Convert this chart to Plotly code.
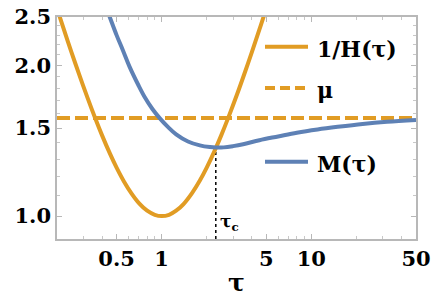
import plotly.graph_objects as go
import math

# ---- data ----
tau_h = [0.2, 0.22, 0.25, 0.28, 0.32, 0.36, 0.4, 0.45, 0.5, 0.56, 0.63, 0.71, 0.8, 0.9, 1.0,
         1.12, 1.25, 1.4, 1.6, 1.8, 2.0, 2.25, 2.5, 2.8, 3.2, 3.6, 4.0, 4.5, 5.0, 5.4]
inv_h = [2.600, 2.383, 2.125, 1.926, 1.723, 1.569, 1.450, 1.336, 1.250, 1.173, 1.109, 1.059,
         1.025, 1.006, 1.000, 1.006, 1.025, 1.057, 1.113, 1.178, 1.250, 1.347, 1.450, 1.579,
         1.756, 1.939, 2.125, 2.361, 2.600, 2.793]

tau_m = [0.42, 0.45, 0.5, 0.55, 0.61, 0.7, 0.77, 0.87, 0.97, 1.1, 1.25, 1.5, 1.8, 2.1,
         2.3, 2.6, 3.0, 3.5, 4.5, 6, 8, 11, 15, 22, 32, 50]
m_vals = [2.64, 2.50, 2.30, 2.148, 1.99, 1.826, 1.73, 1.635, 1.57, 1.508, 1.457, 1.41, 1.385,
          1.374, 1.371, 1.372, 1.38, 1.392, 1.418, 1.443, 1.468, 1.49, 1.508, 1.528, 1.543, 1.556]

mu = 1.57
mu_x = [0.2, 50]
tau_c = 2.3
m_c = 1.37

x_ticks = [0.5, 1, 5, 10, 50]
x_ticklabels = ["0.5", "1", "5", "10", "50"]
y_ticks = [1.0, 1.5, 2.0, 2.5]
y_ticklabels = ["1.0", "1.5", "2.0", "2.5"]
x_minor = [0.2, 0.3, 0.4, 0.6, 0.7, 0.8, 0.9, 2, 3, 4, 6, 7, 8, 9, 20, 30, 40]
y_minor = [0.9, 1.1, 1.2, 1.3, 1.4, 1.6, 1.7, 1.8, 1.9, 2.1, 2.2, 2.3, 2.4]

ORANGE = "#E19C24"
BLUE = "#5E81B5"
FONT = "DejaVu Serif"

fig = go.Figure()
fig.add_trace(go.Scatter(x=mu_x, y=[mu, mu], mode="lines",
                         line=dict(color=ORANGE, width=4, dash="13px,5px"), showlegend=False))
fig.add_trace(go.Scatter(x=[tau_c, tau_c], y=[0.9, m_c], mode="lines",
                         line=dict(color="black", width=1.5, dash="dot"), showlegend=False))
fig.add_trace(go.Scatter(x=tau_h, y=inv_h, mode="lines",
                         line=dict(color=ORANGE, width=4, shape="spline"), showlegend=False))
fig.add_trace(go.Scatter(x=tau_m, y=m_vals, mode="lines",
                         line=dict(color=BLUE, width=4, shape="spline"), showlegend=False))

W, H = 436, 308
L, R, T, B = 57, 20, 17, 69
pw, ph = W - L - R, H - T - B

def px(x):
    return (x - L) / pw

def py(y):
    return (H - B - y) / ph

# manual legend
legend_items = [
    (46.7, ORANGE, "solid", "1/H(τ)"),
    (88, ORANGE, "10px,5px", "μ"),
    (161.7, BLUE, "solid", "M(τ)"),
]
for yy, col, dash, label in legend_items:
    fig.add_shape(type="line", xref="paper", yref="paper",
                  x0=px(265), x1=px(308), y0=py(yy), y1=py(yy),
                  line=dict(color=col, width=4, dash=dash))
    fig.add_annotation(xref="paper", yref="paper", x=px(315), y=py(yy + 2),
                       text=label, showarrow=False, xanchor="left", yanchor="middle",
                       font=dict(family=FONT, size=22, color="black", weight="bold"))

fig.add_annotation(x=math.log10(tau_c), y=math.log10(0.9), xref="x", yref="y",
                   text="τ<sub>c</sub>", showarrow=False, xanchor="left", yanchor="bottom",
                   xshift=2, yshift=3,
                   font=dict(family=FONT, size=17, color="black", weight="bold"))

axis_common = dict(type="log", showgrid=False, zeroline=False, showline=True,
                   linecolor="#b8b8b8", linewidth=1.5, mirror="ticks",
                   ticks="inside", ticklen=5, tickcolor="#b8b8b8", tickwidth=1,
                   tickfont=dict(family=FONT, size=21, color="black", weight="bold"))

fig.update_xaxes(**axis_common, range=[math.log10(0.2), math.log10(50)],
                 tickmode="array", tickvals=x_ticks, ticktext=x_ticklabels,
                 minor=dict(tickmode="array", tickvals=x_minor, ticks="inside",
                            ticklen=3, tickcolor="#c8c8c8"),
                 title=dict(text="τ", font=dict(family=FONT, size=25, color="black",
                                                weight="bold"), standoff=4))
fig.update_yaxes(**axis_common, range=[math.log10(0.9), math.log10(2.5)],
                 tickmode="array", tickvals=y_ticks, ticktext=y_ticklabels,
                 minor=dict(tickmode="array", tickvals=y_minor, ticks="inside",
                            ticklen=3, tickcolor="#c8c8c8"))

fig.update_layout(width=W, height=H, margin=dict(l=L, r=R, t=T, b=B, autoexpand=False),
                  plot_bgcolor="white", paper_bgcolor="white", showlegend=False)

fig.write_html("out.html", config={"displayModeBar": False},
               post_script="document.body.style.margin='0px';")
